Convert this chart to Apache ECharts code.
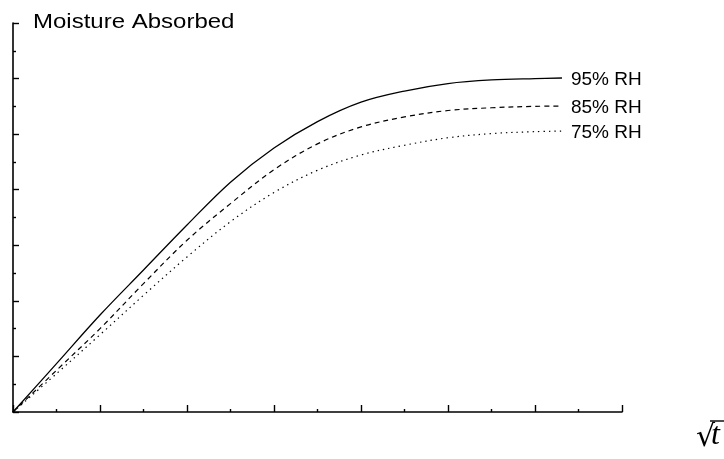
<!DOCTYPE html>
<html>
<head>
<meta charset="utf-8">
<script src="https://cdn.jsdelivr.net/npm/echarts@6/dist/echarts.min.js"></script>
<style>
html,body{margin:0;padding:0;background:#fff;}
#chart{width:724px;height:459px;}
</style>
</head>
<body>
<div id="chart"></div>
<script>
const xValues = [0, 1, 2, 3, 4, 5, 6, 7, 8, 9, 10, 11, 12, 12.62];
const rh95 = [0, 1.74, 3.49, 5.11, 6.73, 8.27, 9.5, 10.45, 11.15, 11.55, 11.82, 11.95, 12.0, 12.02];
const rh85 = [0, 1.5, 3.0, 4.62, 6.18, 7.5, 8.72, 9.65, 10.26, 10.62, 10.85, 10.95, 11.0, 11.01];
const rh75 = [0, 1.38, 2.78, 4.2, 5.58, 6.85, 7.9, 8.7, 9.25, 9.6, 9.87, 10.02, 10.09, 10.11];
const seriesNames = ['95% RH', '85% RH', '75% RH'];
const yTitle = 'Moisture Absorbed';
const xTitleRadical = '\u221A';
const xTitleVar = 't';

const seriesValues = [rh95, rh85, rh75];
const dashTypes = ['solid', [5, 4], [1.4, 4]];

function pairs(ys) { return xValues.map((x, i) => [x, ys[i]]); }

const axisCommon = {
  type: 'value', min: 0, max: 14, interval: 2,
  axisLine: { show: true, onZero: false, lineStyle: { color: '#000', width: 1.6 } },
  axisLabel: { show: false },
  splitLine: { show: false },
  minorTick: { show: true, splitNumber: 2, length: 3, lineStyle: { color: '#000', width: 1.4 } }
};

const chart = echarts.init(document.getElementById('chart'), null, { renderer: 'canvas' });
chart.setOption({
  animation: false,
  backgroundColor: '#fff',
  grid: { left: 13, right: 102, top: 23, bottom: 47, containLabel: false },
  xAxis: Object.assign({}, axisCommon, {
    axisTick: { show: true, inside: true, length: 7, lineStyle: { color: '#000', width: 1.4 } }
  }),
  yAxis: Object.assign({}, axisCommon, {
    axisTick: { show: true, inside: true, length: 6, lineStyle: { color: '#000', width: 1.4 } }
  }),
  series: seriesNames.map((name, i) => ({
    name: name,
    type: 'line',
    data: pairs(seriesValues[i]),
    smooth: 0.35,
    showSymbol: false,
    symbol: 'none',
    lineStyle: { color: '#000', width: i === 0 ? 1.3 : 1.2, type: dashTypes[i] },
    endLabel: {
      show: true, formatter: '{a}', distance: 9, offset: [0, 2],
      fontFamily: 'Liberation Sans, Arial, sans-serif', fontSize: 19, color: '#000'
    }
  })),
  graphic: [
    {
      type: 'text', left: 33, top: 12, scaleX: 1.2, originX: 0,
      style: { text: yTitle, fontFamily: 'Liberation Sans, Arial, sans-serif', fontSize: 20, fill: '#000' }
    },
    {
      type: 'text', x: 696, y: 453,
      style: { text: xTitleRadical, fontFamily: 'DejaVu Serif, serif', fontSize: 30, fill: '#000', textVerticalAlign: 'bottom' }
    },
    {
      type: 'text', x: 711, y: 452,
      style: { text: xTitleVar, fontFamily: 'Liberation Serif, serif', fontStyle: 'italic', fontSize: 32, fill: '#000', textVerticalAlign: 'bottom' }
    },
    {
      type: 'line', shape: { x1: 710, y1: 421, x2: 724, y2: 421 },
      style: { stroke: '#000', lineWidth: 1.4 }
    }
  ]
});
</script>
</body>
</html>
